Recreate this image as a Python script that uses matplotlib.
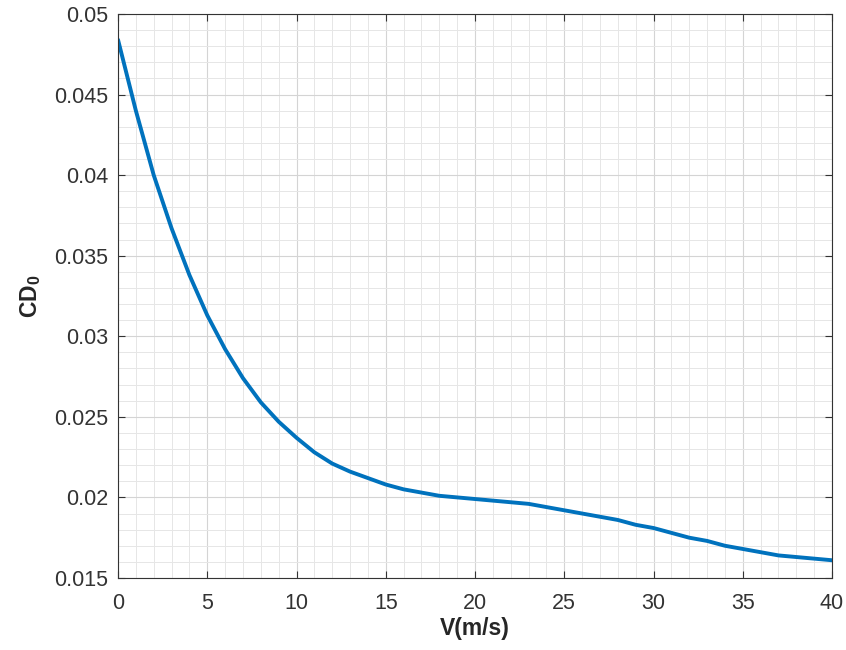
import numpy as np
import matplotlib.pyplot as plt
from matplotlib.ticker import MultipleLocator

plt.rcParams['font.family'] = ['Liberation Sans', 'DejaVu Sans']
plt.rcParams['mathtext.fontset'] = 'custom'
plt.rcParams['mathtext.rm'] = 'Liberation Sans:bold'
plt.rcParams['mathtext.bf'] = 'Liberation Sans:bold'

# speed (m/s) and zero-lift drag coefficient
speed = list(range(0, 41))
cd0 = [0.0484, 0.0440, 0.0400, 0.0367, 0.0338, 0.0313, 0.0292, 0.0274, 0.0259,
       0.0247, 0.0237, 0.0228, 0.0221, 0.0216, 0.0212, 0.0208, 0.0205, 0.0203,
       0.0201, 0.0200, 0.0199, 0.0198, 0.0197, 0.0196, 0.0194, 0.0192, 0.0190,
       0.0188, 0.0186, 0.0183, 0.0181, 0.0178, 0.0175, 0.0173, 0.0170, 0.0168,
       0.0166, 0.0164, 0.0163, 0.0162, 0.0161]

x_ticks = [0, 5, 10, 15, 20, 25, 30, 35, 40]
y_ticks = [0.015, 0.02, 0.025, 0.03, 0.035, 0.04, 0.045, 0.05]
y_tick_labels = ['0.015', '0.02', '0.025', '0.03', '0.035', '0.04', '0.045', '0.05']

fig = plt.figure(figsize=(8.46, 6.5), dpi=100)
ax = fig.add_axes([0.1395, 0.1108, 0.844, 0.8677])

ax.plot(speed, cd0, color='#0072BD', lw=2.8, solid_capstyle='round',
        solid_joinstyle='round')

ax.set_xlim(0, 40)
ax.set_ylim(0.015, 0.05)
ax.set_xticks(x_ticks)
ax.set_yticks(y_ticks)
ax.set_yticklabels(y_tick_labels)
ax.xaxis.set_minor_locator(MultipleLocator(1))
ax.yaxis.set_minor_locator(MultipleLocator(0.001))

ax.grid(which='major', color='#d4d4d4', lw=0.8)
ax.grid(which='minor', color='#e6e6e6', lw=0.7)
ax.set_axisbelow(True)

ax.tick_params(which='major', direction='in', length=5, colors='#333333',
               labelsize=15.5, top=True, right=True)
ax.tick_params(axis='x', pad=11)
ax.tick_params(axis='y', pad=7)
ax.tick_params(which='minor', length=0)
for s in ax.spines.values():
    s.set_color('#333333')
    s.set_linewidth(0.8)

ax.set_xlabel('V(m/s)', fontsize=16.5, fontweight='bold', color='#262626', labelpad=2)
ax.set_ylabel(r'$\mathbf{CD_0}$', fontsize=16.5, color='#262626', labelpad=8)

fig.savefig('out.png', dpi=100)
